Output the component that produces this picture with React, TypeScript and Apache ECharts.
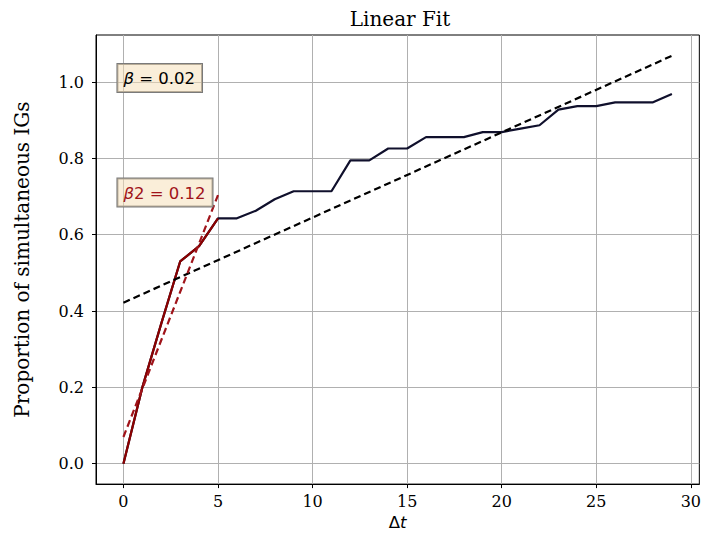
import React, { useEffect, useRef } from "react";
import * as echarts from "echarts";

const deltaT = [0, 1, 2, 3, 4, 5, 6, 7, 8, 9, 10, 11, 12, 13, 14, 15, 16, 17, 18, 19, 20, 21, 22, 23, 24, 25, 26, 27, 28, 29];
const proportion = [0, 0.2, 0.367, 0.53, 0.57, 0.643, 0.643, 0.663, 0.693, 0.714, 0.714, 0.714, 0.795, 0.795, 0.826, 0.826, 0.856, 0.856, 0.856, 0.869, 0.869, 0.878, 0.887, 0.928, 0.937, 0.937, 0.947, 0.947, 0.947, 0.969];
const earlyCount = 6;
const overallFitX = [0, 29];
const overallFitY = [0.422, 1.069];
const earlyFitX = [0, 5];
const earlyFitY = [0.07, 0.704];
const xTicks = [0, 5, 10, 15, 20, 25, 30];
const yTicks = [0, 0.2, 0.4, 0.6, 0.8, 1.0];
const betaLabel = { x: 0, y: 1.0, text: "0.02" };
const beta2Label = { x: 0, y: 0.7, text: "0.12" };

const DARK = "#10102c";
const RED = "#8b0000";
const RED2 = "#a0141a";

export default function App() {
  const ref = useRef<HTMLDivElement>(null);
  useEffect(() => {
    if (!ref.current) return;
    const chart = echarts.init(ref.current, null, { renderer: "svg" });
    const serif = "DejaVu Serif";
    const sans = "DejaVu Sans";
    const boxLabel = (color: string, withTwo: boolean, val: string) => ({
      show: true,
      position: "right",
      distance: 0,
      offset: [-6, -4],
      formatter: withTwo ? `{i|β}{n|2 = ${val}}` : `{i|β}{n| = ${val}}`,
      backgroundColor: "rgba(245,222,179,0.5)",
      borderColor: "#7a7a7a",
      borderWidth: 1,
      padding: [6, 7, 5, 6],
      opacity: 1,
      rich: {
        i: { fontFamily: sans, fontStyle: "italic", fontSize: 16.5, color, opacity: 1 },
        n: { fontFamily: sans, fontSize: 16.5, color, opacity: 1 },
      },
    });
    chart.setOption({
      animation: false,
      backgroundColor: "#ffffff",
      title: {
        text: "Linear Fit",
        left: 395,
        top: 4,
        textAlign: "center",
        textStyle: { fontFamily: serif, fontWeight: "normal", fontSize: 20, color: "#000" },
      },
      grid: {
        left: 96,
        right: 2,
        top: 35,
        bottom: 50,
        show: true,
        borderColor: "#000",
        borderWidth: 1,
        containLabel: false,
      },
      xAxis: {
        type: "value",
        min: -1.45,
        max: 30.45,
        name: "{d|Δ}{t|t}",
        nameLocation: "middle",
        nameGap: 28,
        nameTextStyle: {
          rich: {
            d: { fontFamily: sans, fontSize: 16.5, color: "#000" },
            t: { fontFamily: sans, fontStyle: "italic", fontSize: 16.5, color: "#000" },
          },
        },
        axisLine: { show: true, onZero: false, lineStyle: { color: "#000", width: 1 } },
        axisTick: { show: true, inside: false, length: 4, customValues: xTicks, lineStyle: { color: "#000" } },
        axisLabel: {
          customValues: xTicks,
          margin: 9,
          fontFamily: serif,
          fontSize: 16,
          color: "#000",
          formatter: (v: number) => String(v),
        },
        splitLine: { show: true, lineStyle: { color: "#b0b0b0", width: 1 } },
      },
      yAxis: {
        type: "value",
        min: -0.0535,
        max: 1.1235,
        name: "Proportion of simultaneous IGs",
        nameLocation: "middle",
        nameGap: 64,
        nameTextStyle: { fontFamily: serif, fontSize: 20, color: "#000" },
        axisLine: { show: true, onZero: false, lineStyle: { color: "#000", width: 1 } },
        axisTick: { show: true, inside: false, length: 4, customValues: yTicks, lineStyle: { color: "#000" } },
        axisLabel: {
          customValues: yTicks,
          margin: 12,
          fontFamily: serif,
          fontSize: 16,
          color: "#000",
          formatter: (v: number) => v.toFixed(1),
        },
        splitLine: { show: true, lineStyle: { color: "#b0b0b0", width: 1 } },
      },
      series: [
        {
          type: "line",
          data: deltaT.map((x, i) => [x, proportion[i]]),
          showSymbol: false,
          symbol: "none",
          lineStyle: { color: DARK, width: 2.2 },
          z: 3,
        },
        {
          type: "line",
          data: deltaT.slice(0, earlyCount).map((x, i) => [x, proportion[i]]),
          symbol: "none",
          lineStyle: { color: RED, width: 2.2 },
          z: 4,
        },
        {
          type: "line",
          data: overallFitX.map((x, i) => [x, overallFitY[i]]),
          symbol: "none",
          lineStyle: { color: "#000", width: 2.2, type: [7, 4] },
          z: 5,
        },
        {
          type: "line",
          data: earlyFitX.map((x, i) => [x, earlyFitY[i]]),
          symbol: "none",
          lineStyle: { color: RED2, width: 2.2, type: [7, 4] },
          z: 5,
        },
        {
          type: "scatter",
          symbolSize: 0,
          itemStyle: { opacity: 1 },
          data: [[betaLabel.x, betaLabel.y]],
          label: boxLabel("#000", false, betaLabel.text),
          z: 6,
        },
        {
          type: "scatter",
          symbolSize: 0,
          itemStyle: { opacity: 1 },
          data: [[beta2Label.x, beta2Label.y]],
          label: boxLabel(RED2, true, beta2Label.text),
          z: 6,
        },
      ],
    });
    return () => chart.dispose();
  }, []);
  return (
    <div
      ref={ref}
      style={{ position: "fixed", left: 0, top: 0, width: 704, height: 536, background: "#fff" }}
    />
  );
}
